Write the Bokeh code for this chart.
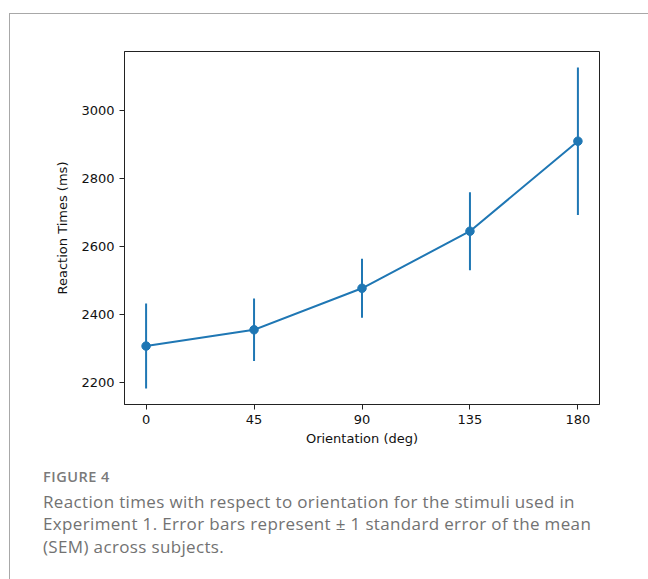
from bokeh.plotting import figure
from bokeh.models import FixedTicker, Range1d, Div, ColumnDataSource
from bokeh.layouts import column
from bokeh.embed import file_html
from bokeh.resources import INLINE

# Data
orientation = [0, 45, 90, 135, 180]
rt_mean = [2307, 2355, 2477, 2645, 2910]
rt_sem = [125, 92, 87, 115, 217]
x_ticks = [0, 45, 90, 135, 180]
y_ticks = [2200, 2400, 2600, 2800, 3000]

caption_title = "FIGURE 4"
caption_lines = [
    "Reaction times with respect to orientation for the stimuli used in",
    "Experiment 1. Error bars represent \u00b1 1 standard error of the mean",
    "(SEM) across subjects.",
]

lower = [m - s for m, s in zip(rt_mean, rt_sem)]
upper = [m + s for m, s in zip(rt_mean, rt_sem)]
src = ColumnDataSource(dict(x=orientation, y=rt_mean, lo=lower, hi=upper))

C0 = "#1f77b4"
FONT = "DejaVu Sans"

p = figure(width=637, height=445, output_backend="svg", toolbar_location=None,
           x_range=Range1d(-9, 189), y_range=Range1d(2135, 3174),
           min_border_left=114, min_border_right=48, min_border_top=37,
           min_border_bottom=55)
p.grid.visible = False
p.outline_line_color = "#222222"
p.outline_line_width = 1
p.background_fill_color = "white"
p.border_fill_color = "white"

p.segment(x0="x", y0="lo", x1="x", y1="hi", source=src, line_color=C0, line_width=2)
p.line(x="x", y="y", source=src, line_color=C0, line_width=2)
p.scatter(x="x", y="y", source=src, size=8.5, fill_color=C0, line_color=C0)

p.xaxis.ticker = FixedTicker(ticks=x_ticks)
p.yaxis.ticker = FixedTicker(ticks=y_ticks)
p.xaxis.axis_label = "Orientation (deg)"
p.yaxis.axis_label = "Reaction Times (ms)"
for ax in (p.xaxis, p.yaxis):
    ax.axis_line_color = "#222222"
    ax.axis_line_width = 1
    ax.major_tick_line_color = "#222222"
    ax.major_tick_in = 0
    ax.major_tick_out = 5
    ax.minor_tick_line_color = None
    ax.major_label_text_font = FONT
    ax.major_label_text_font_size = "13px"
    ax.major_label_text_color = "#111111"
    ax.axis_label_text_font = FONT
    ax.axis_label_text_font_size = "13px"
    ax.axis_label_text_font_style = "normal"
    ax.axis_label_text_color = "#111111"
    ax.major_label_standoff = 5
p.xaxis.axis_label_standoff = 4
p.yaxis.axis_label_standoff = 8

cap_html = (
    '<div style="font-family:\'Open Sans\';padding-left:28px;padding-top:4px;">'
    '<div style="font-size:14.5px;font-weight:600;line-height:18px;letter-spacing:0.5px;color:#7a7a7a;">'
    + caption_title + '</div>'
    '<div style="font-size:17px;font-weight:400;line-height:22.3px;letter-spacing:0.35px;'
    'color:#727272;margin-top:5px;white-space:nowrap;">'
    + "<br>".join(caption_lines) + '</div></div>'
)
cap = Div(text=cap_html, width=637, height=120)

lay = column(p, cap, styles={"margin-left": "9px", "margin-top": "13px",
                             "border-left": "1px solid #a8a8a8",
                             "border-top": "1px solid #a8a8a8"})

open("out.html", "w").write(file_html(lay, INLINE))
